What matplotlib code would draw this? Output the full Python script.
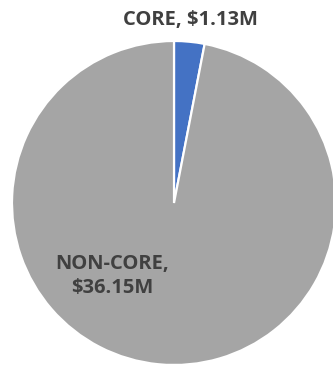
import matplotlib.pyplot as plt

labels = ["CORE", "NON-CORE"]
values = [1.13, 36.15]  # $M
colors = ["#4472C4", "#A5A5A5"]

W, H = 333, 366
fig = plt.figure(figsize=(W / 100, H / 100), dpi=100)
# pie spans x 12..336 px, y 41..365 px (from top)
ax = fig.add_axes([12 / W, 1 / H, 324 / W, 324 / H])
ax.pie(
    values,
    colors=colors,
    startangle=90,
    counterclock=False,
    radius=1.0,
    wedgeprops=dict(edgecolor="white", linewidth=1.6),
)
ax.set_xlim(-1, 1)
ax.set_ylim(-1, 1)
ax.set_aspect("auto")
ax.axis("off")

font = dict(family=["Open Sans", "DejaVu Sans"], fontweight="bold", color="#404040", fontsize=14.5)
fig.text(190 / W, 1 - 20 / H, f"{labels[0]}, ${values[0]:.2f}M", ha="center", va="center", **font)
fig.text(112 / W, 1 - 276 / H, f"{labels[1]},\n${values[1]:.2f}M", ha="center", va="center",
         linespacing=1.2, **font)

fig.savefig("out.png", dpi=100)
